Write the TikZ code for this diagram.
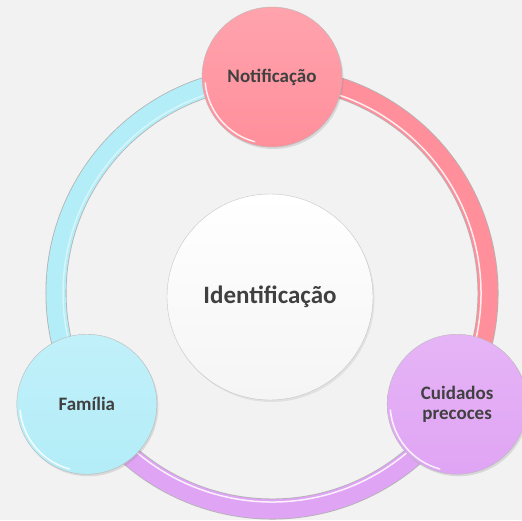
\documentclass[tikz,border=0pt]{standalone}
\usepackage{fontspec}
\setmainfont{Carlito}
\usepackage{xcolor}
\usepackage{tikz}
\usetikzlibrary{positioning, calc, shadows}

\definecolor{bgpaper}{HTML}{F2F2F2}
\definecolor{txtgray}{HTML}{404040}
\definecolor{notipink}{HTML}{FF8F9B}
\definecolor{famcyan}{HTML}{B3EDF8}
\definecolor{cuidlilac}{HTML}{E0A4F4}

\pgfdeclarelayer{back}
\pgfdeclarelayer{ring}
\pgfsetlayers{back,ring,main}

\tikzset{
  bubble/.style={circle, minimum size=140pt, inner sep=0pt, draw=gray!55, line width=.4pt,
    top color=#1!82!white, bottom color=#1,
    drop shadow={shadow xshift=1.5pt, shadow yshift=-2pt, opacity=.22},
    font=\fontsize{19}{20}\selectfont\bfseries, text=txtgray, align=center},
  hub/.style={circle, minimum size=206pt, inner sep=0pt, draw=gray!45, line width=.4pt,
    top color=white, bottom color=black!4,
    drop shadow={shadow xshift=1.5pt, shadow yshift=-2pt, opacity=.15},
    font=\fontsize{25}{28}\selectfont\bfseries, text=txtgray},
  bandedge/.style={line width=21pt, draw=gray!60},
  band/.style={line width=19.4pt, draw=#1},
  gloss/.style={white, line width=1.5pt, opacity=.85, line cap=round},
}

\begin{document}
\begin{tikzpicture}[x=1pt, y=1pt]
  \def\R{216}
  \useasboundingbox (-272,-227) rectangle (250,293);
  \begin{pgfonlayer}{back}
    \fill[bgpaper] (-272,-227) rectangle (250,293);
  \end{pgfonlayer}
  \coordinate (o) at (0,0);

  \node[hub] (ident) at (-2,-4) {Identificação};
  \node[bubble=notipink] (noti) at (90:\R) {Notificação};
  \node[bubble=famcyan] (fam) at (211:\R) {Família};
  \node[bubble=cuidlilac] (cuid) at (329:\R) {Cuidados\\precoces};

  % shine on the lower left rim
  \foreach \n in {noti, fam, cuid}
    \draw[gloss] ($(\n.center)+(185:67)$) arc[start angle=185, end angle=255, radius=67];

  % the ring behind the bubbles
  \begin{pgfonlayer}{ring}
    \draw[bandedge] (noti.center) arc[start angle=90, end angle=211, radius=\R];
    \draw[bandedge] (fam.center) arc[start angle=211, end angle=329, radius=\R];
    \draw[bandedge] (cuid.center) arc[start angle=-31, end angle=90, radius=\R];
    \draw[band=famcyan] (noti.center) arc[start angle=90, end angle=211, radius=\R];
    \draw[band=cuidlilac] (fam.center) arc[start angle=211, end angle=329, radius=\R];
    \draw[band=notipink] (cuid.center) arc[start angle=-31, end angle=90, radius=\R];
    \draw[gloss, opacity=.45] ($(o)+(90:\R-7)$) arc[start angle=90, end angle=211, radius=\R-7];
    \draw[gloss] ($(o)+(211:\R-7)$) arc[start angle=211, end angle=329, radius=\R-7];
    \draw[gloss] ($(o)+(-31:\R-7)$) arc[start angle=-31, end angle=90, radius=\R-7];
  \end{pgfonlayer}
\end{tikzpicture}
\end{document}
